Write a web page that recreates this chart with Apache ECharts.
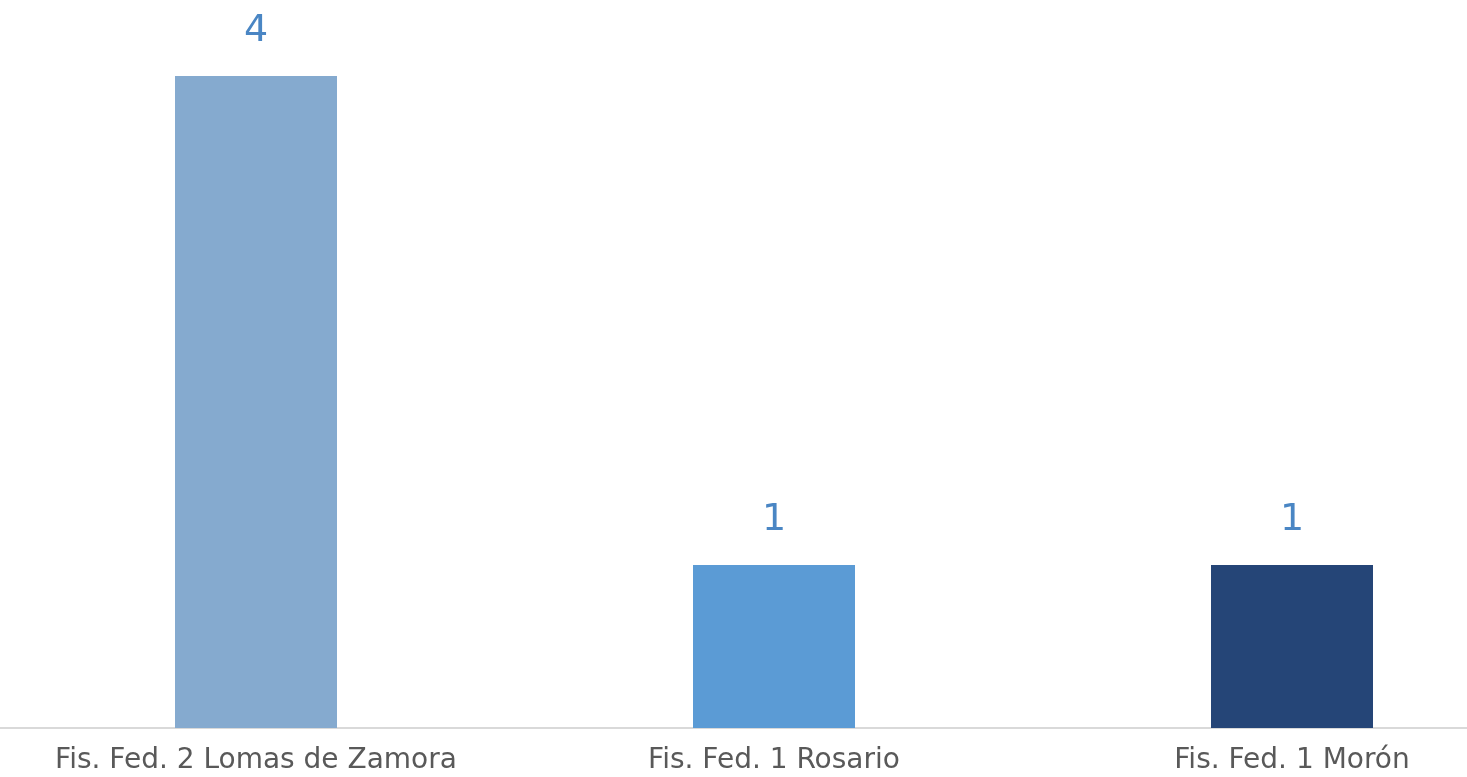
<!DOCTYPE html>
<html>
<head>
<meta charset="utf-8">
<script src="https://cdn.jsdelivr.net/npm/echarts@6/dist/echarts.min.js"></script>
<style>
	html, body { margin: 0; padding: 0; background: #fff; }
	#chart { width: 1467px; height: 777px; }
</style>
</head>
<body>
<div id="chart"></div>
<script>
	// datos del gráfico
	var categorias = ['Fis. Fed. 2 Lomas de Zamora', 'Fis. Fed. 1 Rosario', 'Fis. Fed. 1 Morón'];
	var valores = [4, 1, 1];
	var colores = ['#85aacf', '#5b9bd5', '#254577'];

	var myChart = echarts.init(document.getElementById('chart'));
	var option = {
		animation: false,
		grid: {
			left: -3, width: 1554,
			top: 76, bottom: 49,
			outerBoundsMode: 'none',
			containLabel: false
		},
		xAxis: {
			type: 'category',
			data: categorias,
			axisLine: { lineStyle: { color: '#d9d9d9', width: 2 } },
			axisTick: { show: false },
			axisLabel: {
				color: '#595959',
				fontFamily: 'DejaVu Sans',
				fontSize: 28,
				margin: 19,
				interval: 0
			}
		},
		yAxis: {
			type: 'value',
			min: 0, max: 4,
			show: false,
			splitLine: { show: false }
		},
		series: [{
			type: 'bar',
			barWidth: 162,
			data: valores.map(function(v, i) {
				return { value: v, itemStyle: { color: colores[i] } };
			}),
			label: {
				show: true,
				position: 'top',
				distance: 26,
				color: '#4a86c4',
				fontFamily: 'DejaVu Sans',
				fontSize: 38
			}
		}]
	};
	myChart.setOption(option);
</script>
</body>
</html>
